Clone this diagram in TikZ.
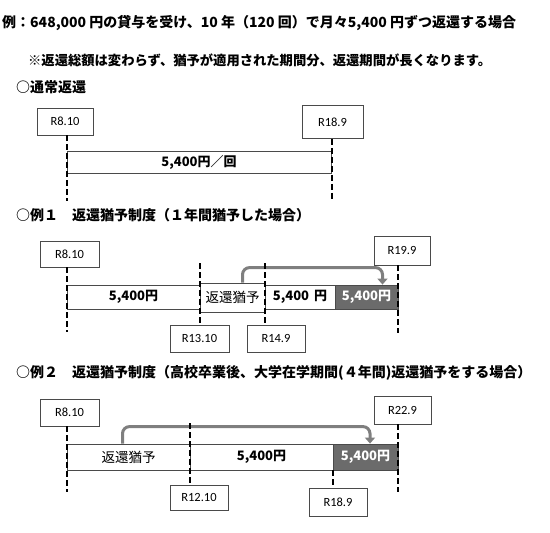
\documentclass[tikz,border=0pt]{standalone}
\usepackage{fontspec}
\setmainfont{Noto Sans CJK JP}
\newfontfamily\lat{Carlito}
\usetikzlibrary{arrows.meta}
\definecolor{BarEdge}{HTML}{4A4A4A}
\definecolor{BarExtra}{HTML}{6B6B6B}
\definecolor{MoveGray}{HTML}{7F7F7F}
\tikzset{
    % date labels and bar pieces
    datebox/.style={
        rectangle,
        draw=BarEdge,
        fill=white,
        line width=0.8pt,
        inner sep=0pt,
        font=\lat\fontsize{12.5}{14}\selectfont
    },
    payseg/.style={
        rectangle,
        draw=BarEdge,
        fill=white,
        line width=0.8pt,
        inner sep=0pt,
        font=\bfseries\fontsize{13}{15}\selectfont
    },
    holdseg/.style={
        payseg,
        font=\fontsize{13.5}{15}\selectfont
    },
    extraseg/.style={
        payseg,
        fill=BarExtra,
        text=white
    },
    heading/.style={
        anchor=west,
        inner sep=0pt,
        font=\bfseries\fontsize{14}{16}\selectfont
    },
    % lines
    guide/.style={
        line width=1.6pt,
        dash pattern=on 6pt off 3pt
    },
    movearrow/.style={
        -{Triangle[width=10pt,length=6pt]},
        line width=3pt,
        draw=MoveGray,
        rounded corners=7pt
    }
}

\begin{document}
\begin{tikzpicture}[x=1pt, y=-1pt]
    \useasboundingbox (0,0) rectangle (550,533);

    \node[heading] (title) at (2,23) {例：648,000 円の貸与を受け、10 年（120 回）で月々5,400 円ずつ返還する場合};
    \node[heading, font=\bfseries\fontsize{13.3}{15}\selectfont] (note) at (28,60) {※返還総額は変わらず、猶予が適用された期間分、返還期間が長くなります。};

    % normal repayment
    \node[heading] (head1) at (16,87) {○通常返還};
    \node[datebox, minimum width=56pt, minimum height=27pt] (d1a) at (65,121.5) {R8.10};
    \node[datebox, minimum width=61pt, minimum height=33pt] (d1b) at (332.5,122) {R18.9};
    \node[payseg, minimum width=264pt, minimum height=22pt] (s1a) at (199,162) {5,400円／回};
    \coordinate (g1a) at (67,201);
    \coordinate (g1b) at (332,201);

    % example 1
    \node[heading] (head2) at (16,215) {○例１　返還猶予制度（１年間猶予した場合）};
    \node[datebox, minimum width=59pt, minimum height=26pt] (d2a) at (69.5,254) {R8.10};
    \node[datebox, minimum width=56pt, minimum height=29pt] (d2b) at (402,250.5) {R19.9};
    \node[payseg, minimum width=133pt, minimum height=24pt] (s2a) at (133.5,297) {5,400円};
    \node[holdseg, minimum width=65pt, minimum height=29pt] (s2b) at (232.5,297.5) {返還猶予};
    \node[payseg, minimum width=70pt, minimum height=24pt] (s2c) at (300,297) {5,400\hspace{5pt}円};
    \node[extraseg, minimum width=63pt, minimum height=24pt] (s2d) at (366.5,297) {5,400円};
    \node[datebox, minimum width=59pt, minimum height=27pt] (d2c) at (199.5,338.5) {R13.10};
    \node[datebox, minimum width=58pt, minimum height=27pt] (d2d) at (276,338.5) {R14.9};
    \coordinate (g2a) at (67,332);
    \coordinate (g2b) at (200,263);
    \coordinate (g2c) at (265,263);
    \coordinate (g2d) at (398,333);

    % example 2
    \node[heading] (head3) at (16,373) {○例２　返還猶予制度（高校卒業後、大学在学期間(４年間)返還猶予をする場合）};
    \node[datebox, minimum width=59pt, minimum height=27pt] (d3a) at (69.5,412.5) {R8.10};
    \node[datebox, minimum width=57pt, minimum height=28pt] (d3b) at (402.5,410) {R22.9};
    \node[holdseg, minimum width=123pt, minimum height=26pt] (s3a) at (128.5,457) {返還猶予};
    \node[payseg, minimum width=143pt, minimum height=26pt] (s3b) at (261.5,457) {5,400円};
    \node[extraseg, minimum width=65pt, minimum height=26pt] (s3c) at (365.5,457) {5,400円};
    \node[datebox, minimum width=58pt, minimum height=25pt] (d3c) at (199,497.5) {R12.10};
    \node[datebox, minimum width=58pt, minimum height=28pt] (d3d) at (338,502) {R18.9};
    \coordinate (g3a) at (67,492);
    \coordinate (g3b) at (190,423);
    \coordinate (g3c) at (333,470);
    \coordinate (g3d) at (398,492);

    \draw[movearrow] ([xshift=10pt]s2b.north) -- ++(0,-15) -| ([xshift=16pt]s2d.north);
    \draw[movearrow] ([xshift=-6pt]s3a.north) -- ++(0,-17) -| ([xshift=4.5pt]s3c.north);

    \draw[guide] (g1a |- d1a.south) -- (g1a);
    \draw[guide] (g1b |- d1b.south) -- (g1b);
    \draw[guide] (g2a |- d2a.south) -- (g2a);
    \draw[guide] (g2b) -- (g2b |- d2c.north);
    \draw[guide] (g2c) -- (g2c |- d2d.north);
    \draw[guide] (g2d |- d2b.south) -- (g2d);
    \draw[guide] (g3a |- d3a.south) -- (g3a);
    \draw[guide] (g3b) -- (g3b |- d3c.north);
    \draw[guide] (g3c) -- (g3c |- d3d.north);
    \draw[guide] (g3d |- d3b.south) -- (g3d);
\end{tikzpicture}
\end{document}
